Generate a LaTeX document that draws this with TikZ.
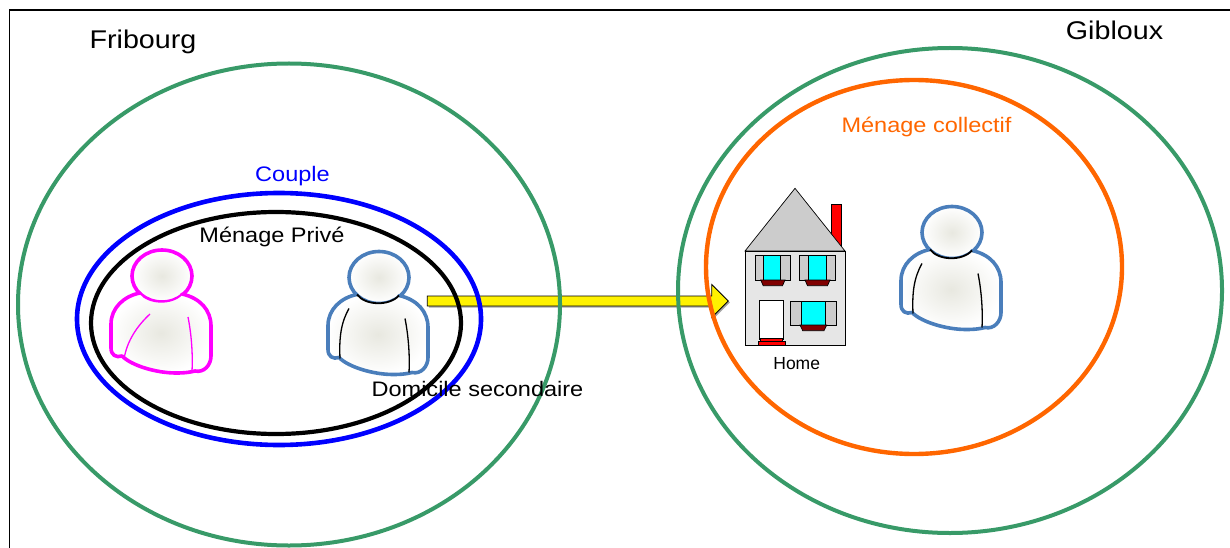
\documentclass[tikz,border=0pt]{standalone}
\usepackage{fontspec}
\setmainfont{Liberation Sans}
\usepackage{graphicx}
\usetikzlibrary{shapes.geometric,calc}
\definecolor{cgreen}{RGB}{56,154,104}
\definecolor{corange}{RGB}{255,102,0}
\definecolor{cperson}{RGB}{74,126,187}
\definecolor{cpink}{RGB}{255,0,255}
\definecolor{cskin}{RGB}{232,232,224}
\definecolor{croof}{RGB}{204,204,204}
\definecolor{cwall}{RGB}{230,230,230}
\definecolor{csill}{RGB}{128,0,0}
\definecolor{cwin}{RGB}{0,255,255}
\newcommand{\hstretch}[1]{\scalebox{1.12}[1]{#1}}
\tikzset{
  zone/.style={ellipse, draw, inner sep=0pt, outer sep=0pt},
  lbl/.style={inner sep=0pt, anchor=base},
  bigfont/.style={font=\fontsize{25.6}{30}\selectfont},
  midfont/.style={font=\fontsize{21}{25}\selectfont},
  smallfont/.style={font=\fontsize{17.5}{21}\selectfont},
  bodyfill/.style={inner color=cskin, outer color=white},
  part/.style={draw=black, line width=0.7},
  pics/person/.style n args={3}{code={
    \shadedraw[draw=#1, line width=3.6, bodyfill] (0,0) ellipse [x radius=30, y radius=26];
    \shade[bodyfill] (-22,17) .. controls (-38,20) and (-51,32) .. (-51,48) -- (-51,72)
      .. controls (-51,79) and (-46,82) .. (-40,80)
      .. controls (-30,90) and (-5,97) .. (14,97) .. controls (24,97) and (29,96) .. (33,95)
      .. controls (42,97) and (49,89) .. (49,80) -- (49,50)
      .. controls (49,34) and (38,22) .. (20,18)
      .. controls (10,29) and (-14,28) .. (-22,17) -- cycle;
    \draw[#1, line width=3.6, line join=round, line cap=round] (-22,17) .. controls (-38,20) and (-51,32) .. (-51,48) -- (-51,72)
      .. controls (-51,79) and (-46,82) .. (-40,80)
      .. controls (-30,90) and (-5,97) .. (14,97) .. controls (24,97) and (29,96) .. (33,95)
      .. controls (42,97) and (49,89) .. (49,80) -- (49,50)
      .. controls (49,34) and (38,22) .. (20,18);
    \draw[#2, line width=1.8] (20,18) .. controls (10,29) and (-14,28) .. (-22,17);
    \draw[#2, line width=1.3] #3;
    \draw[#2, line width=1.3] (26,41) .. controls (29,56) and (31,76) .. (30,95);
  }}
}
\begin{document}
\begin{tikzpicture}[x=1pt,y=-1pt]
\useasboundingbox (0,0) rectangle (1230,548);
% frame
\coordinate (fa) at (9.5,548);
\coordinate (fb) at (9.5,10);
\coordinate (fc) at (1230,10);
\draw[line width=1.8] (fa) -- (fb) -- (fc);

% arrow (below the zones)
\coordinate (arrowstart) at (427.3,301);
\coordinate (arrowtip) at (728.3,301);
\fill[black!35] ($(arrowstart)+(1.5,-4)$) -- ($(arrowtip)+(-15,-4)$) -- ($(arrowtip)+(-15,-15.5)$)
  -- ($(arrowtip)+(1.5,1.5)$) -- ($(arrowtip)+(-15,18)$) -- ($(arrowtip)+(-15,6.5)$) -- ($(arrowstart)+(1.5,6.5)$) -- cycle;
\filldraw[fill=yellow, draw=black, line width=0.8] ($(arrowstart)+(0,-5)$) -- ($(arrowtip)+(-16.6,-5)$) -- ($(arrowtip)+(-16.6,-16.5)$)
  -- (arrowtip) -- ($(arrowtip)+(-16.6,16.5)$) -- ($(arrowtip)+(-16.6,5)$) -- ($(arrowstart)+(0,5)$) -- cycle;

% zones
\node[zone, draw=cgreen, line width=4, minimum width=542pt, minimum height=482pt] (fribourgzone) at (289,304.5) {};
\node[zone, draw=blue, line width=4.6, minimum width=404pt, minimum height=252pt] (couplezone) at (279,319) {};
\node[zone, draw=black, line width=4.2, minimum width=370pt, minimum height=222pt] (privezone) at (276,323) {};
\node[zone, draw=cgreen, line width=4, minimum width=544pt, minimum height=485pt] (gibzone) at (950,290.5) {};
\node[zone, draw=corange, line width=4.4, minimum width=416pt, minimum height=374pt] (collzone) at (914,267) {};

% people
\pic (pinkperson) at (162,276) {person={cpink}{cpink}{(-12,38) .. controls (-25,50) and (-35,65) .. (-38,83)}};
\pic (blueperson) at (379,277.5) {person={cperson}{black}{(-30,31) .. controls (-38,45) and (-40,60) .. (-39,81)}};
\pic (collperson) at (952,232.5) {person={cperson}{black}{(-30,31) .. controls (-38,45) and (-40,60) .. (-39,81)}};

% house
\coordinate (house) at (795,300);
\filldraw[part, fill=red] (831.7,204.3) rectangle (841.7,250);
\filldraw[part, fill=croof] (745,251) -- (795,188.3) -- (845,251) -- cycle;
\filldraw[part, fill=cwall] (745,251) rectangle (845,345);
\filldraw[part, fill=croof] (755,255.5) rectangle (790,280);
\filldraw[part, fill=cwin] (763.3,255.5) rectangle (780.7,280);
\filldraw[part, fill=csill] (760.7,280) -- (785,280) -- (782.5,285.7) -- (763.2,285.7) -- cycle;
\filldraw[part, fill=croof] (799.3,255.5) rectangle (835,280);
\filldraw[part, fill=cwin] (808.3,255.5) rectangle (826.7,280);
\filldraw[part, fill=csill] (805,280) -- (830,280) -- (827.5,285.7) -- (807.5,285.7) -- cycle;
\filldraw[part, fill=white] (759.3,300.7) rectangle (783.3,339);
\filldraw[part, fill=red] (760.5,338) rectangle (782.5,341.5);
\filldraw[part, fill=red] (758.3,341.5) rectangle (785,345);
\filldraw[part, fill=croof] (790,301) rectangle (836.7,325);
\filldraw[part, fill=cwin] (801.7,301) rectangle (825,325);
\filldraw[part, fill=csill] (800,325) -- (826.7,325) -- (824,330.7) -- (802.7,330.7) -- cycle;

% labels
\node[lbl, bigfont] (fribourg) at (143,48.3) {\hstretch{Fribourg}};
\node[lbl, bigfont] (gibloux) at (1114.5,39.2) {\hstretch{Gibloux}};
\node[lbl, midfont, text=blue] (couple) at (292.5,181.7) {\hstretch{Couple}};
\node[lbl, midfont] (prive) at (272,242) {\hstretch{Ménage Privé}};
\node[lbl, midfont] (domicile) at (477.5,396.5) {\hstretch{Domicile secondaire}};
\node[lbl, midfont, text=corange] (collectif) at (926.5,132.2) {\hstretch{Ménage collectif}};
\node[lbl, smallfont] (home) at (796.7,369.3) {Home};
\end{tikzpicture}
\end{document}
